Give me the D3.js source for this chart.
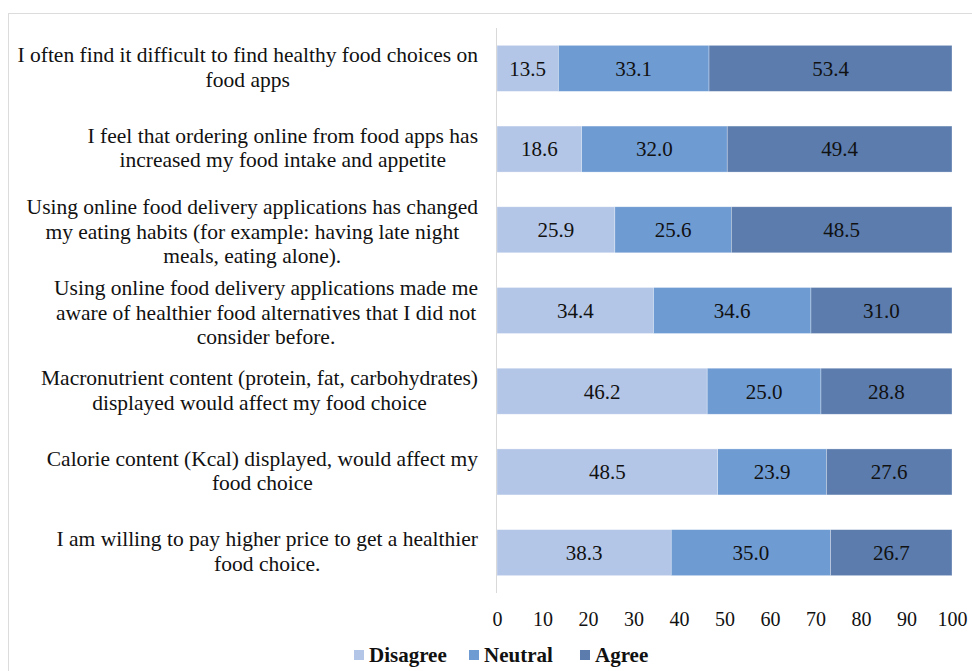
<!DOCTYPE html>
<html>
<head>
<meta charset="utf-8">
<script src="https://cdn.jsdelivr.net/npm/d3@7"></script>
<style>
  body { margin: 0; background: #fff; }
  svg text { font-family: 'Liberation Serif', 'Times New Roman', Times, serif; }
</style>
</head>
<body>
<div id="chart"></div>
<script>
// statements, top to bottom, already wrapped as in the figure
var statements = [
  ['I often find it difficult to find healthy food choices on', 'food apps'],
  ['I feel that ordering online from food apps has', 'increased my food intake and appetite'],
  ['Using online food delivery applications has changed', 'my eating habits (for example: having late night', 'meals, eating alone).'],
  ['Using online food delivery applications made me', 'aware of healthier food alternatives that I did not', 'consider before.'],
  ['Macronutrient content (protein, fat, carbohydrates)', 'displayed would affect my food choice'],
  ['Calorie content (Kcal) displayed, would affect my', 'food choice'],
  ['I am willing to pay higher price to get a healthier', 'food choice.']
];
var series = ['Disagree', 'Neutral', 'Agree'];
var disagree = [13.5, 18.6, 25.9, 34.4, 46.2, 48.5, 38.3];
var neutral  = [33.1, 32.0, 25.6, 34.6, 25.0, 23.9, 35.0];
var agree    = [53.4, 49.4, 48.5, 31.0, 28.8, 27.6, 26.7];
var ticks = [0, 10, 20, 30, 40, 50, 60, 70, 80, 90, 100];

var width = 972, height = 671;
var colors = ['#b4c6e7', '#6f9bd3', '#5b7cad'];
var serif = "'Liberation Serif', 'Times New Roman', Times, serif";

var rows = statements.map(function(s, i) {
  return { id: i, lines: s, Disagree: disagree[i], Neutral: neutral[i], Agree: agree[i] };
});

var svg = d3.select('#chart').append('svg')
    .attr('width', width)
    .attr('height', height)
    .attr('font-family', serif);

// outer frame of the chart area
svg.append('rect')
  .attr('x', 8.5).attr('y', 13.5)
  .attr('width', 980).attr('height', 700)
  .attr('fill', 'none')
  .attr('stroke', '#dcdcdc');

var x = d3.scaleLinear().domain([0, 100]).range([497, 952]);
var y = d3.scaleBand().domain(rows.map(function(d) { return d.id; }))
    .range([28, 593]).paddingInner(0.43).paddingOuter(0.215);

var color = d3.scaleOrdinal().domain(series).range(colors);

var stacked = d3.stack().keys(series)(rows);

var layer = svg.selectAll('g.layer')
  .data(stacked)
  .enter().append('g')
  .attr('class', 'layer')
  .attr('fill', function(d) { return color(d.key); });

layer.selectAll('rect')
  .data(function(d) { return d; })
  .enter().append('rect')
  .attr('x', function(d) { return x(d[0]); })
  .attr('y', function(d) { return y(d.data.id); })
  .attr('width', function(d) { return x(d[1]) - x(d[0]); })
  .attr('height', y.bandwidth())
  .attr('stroke', '#ffffff')
  .attr('stroke-opacity', 0.5)
  .attr('stroke-width', 0.6);

// value labels in the middle of each segment
layer.selectAll('text')
  .data(function(d) { return d; })
  .enter().append('text')
  .attr('x', function(d) { return (x(d[0]) + x(d[1])) / 2; })
  .attr('y', function(d) { return y(d.data.id) + y.bandwidth() / 2; })
  .attr('dy', '0.35em')
  .attr('text-anchor', 'middle')
  .attr('font-size', 21)
  .attr('fill', '#111')
  .text(function(d) { return (d[1] - d[0]).toFixed(1); });

// vertical axis line
svg.append('line')
  .attr('x1', 496.5).attr('x2', 496.5)
  .attr('y1', 28).attr('y2', 593)
  .attr('stroke', '#d9d9d9')
  .attr('stroke-width', 1);

// x axis tick labels, no domain line
var xAxis = svg.append('g')
  .attr('transform', 'translate(0,612)')
  .call(d3.axisBottom(x).tickValues(ticks).tickSize(0).tickPadding(0));
xAxis.attr('font-family', serif).attr('font-size', 20);
xAxis.select('.domain').remove();
xAxis.selectAll('text')
  .attr('fill', '#111')
  .attr('dy', '0.71em');

// category labels: lines centred on each other, block right-aligned
var labelRight = 478, lineH = 24.5;
var label = svg.selectAll('g.label')
  .data(rows)
  .enter().append('g')
  .attr('class', 'label');

label.each(function(d) {
  var g = d3.select(this);
  var texts = g.selectAll('text')
    .data(d.lines)
    .enter().append('text')
    .attr('font-size', 21.5)
    .attr('fill', '#111')
    .attr('text-anchor', 'middle')
    .text(function(t) { return t; });
  var maxW = 0;
  texts.each(function() { maxW = Math.max(maxW, this.getComputedTextLength()); });
  var cy = y(d.id) + y.bandwidth() / 2 - (d.lines.length > 2 ? -2 : 1);
  var top = cy - (d.lines.length - 1) * lineH / 2;
  texts
    .attr('x', labelRight - maxW / 2)
    .attr('y', function(t, i) { return top + i * lineH; })
    .attr('dy', '0.33em');
});

// legend
var legendX = [354, 469, 580];
var legend = svg.selectAll('g.legend')
  .data(series)
  .enter().append('g')
  .attr('class', 'legend')
  .attr('transform', function(d, i) { return 'translate(' + legendX[i] + ',655)'; });

legend.append('rect')
  .attr('x', 0).attr('y', -5)
  .attr('width', 10).attr('height', 10)
  .attr('fill', function(d) { return color(d); });

legend.append('text')
  .attr('x', 15)
  .attr('dy', '0.35em')
  .attr('font-size', 21)
  .attr('font-weight', 'bold')
  .attr('fill', '#111')
  .text(function(d) { return d; });
</script>
</body>
</html>
